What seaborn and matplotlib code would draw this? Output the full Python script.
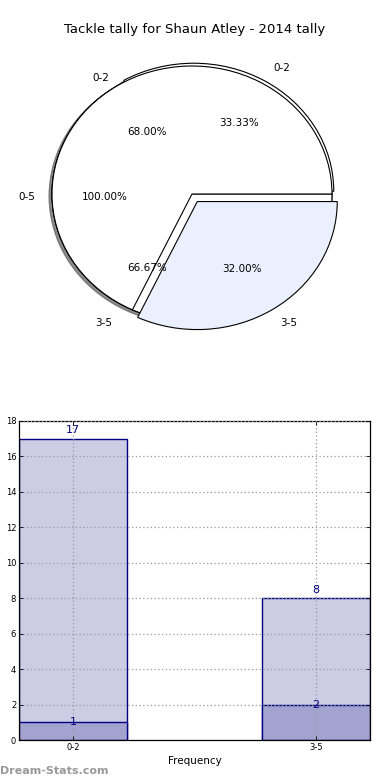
import matplotlib
matplotlib.use("Agg")
import matplotlib.pyplot as plt
import matplotlib.transforms as mtrans
import seaborn as sns
import pandas as pd

# ---- data ----
title = "Tackle tally for Shaun Atley - 2014 tally"
outer_labels = ["0-5"]
outer_values = [25]
mid_labels = ["0-2", "3-5"]
mid_values = [17, 8]
inner_labels = ["0-2", "3-5"]
inner_values = [1, 2]

bar_categories = ["0-2", "3-5"]
bar_totals = [17, 8]
bar_subset = [1, 2]
y_ticks = [0, 2, 4, 6, 8, 10, 12, 14, 16, 18]

sns.set_style("white")
plt.rcParams['font.family'] = ['DejaVu Sans']
plt.rcParams['text.color'] = 'black'
plt.rcParams['xtick.color'] = 'black'
plt.rcParams['ytick.color'] = 'black'
plt.rcParams['axes.labelcolor'] = 'black'

fig = plt.figure(figsize=(3.9, 7.8), dpi=100)

# ---- pie ----
axp = fig.add_axes([17/390, (780-354)/780, 350/390, 320/780])
wp = dict(edgecolor="black", linewidth=0.8)
sh = {'ox': -0.015, 'oy': -0.012, 'shade': 0.6}
texts = []
r1 = axp.pie(outer_values, labels=outer_labels, autopct="%.2f%%", startangle=0,
             colors=["white"], shadow=sh, wedgeprops=wp,
             textprops=dict(fontsize=7.5), labeldistance=1.12, pctdistance=0.62)
r3 = axp.pie(inner_values, labels=inner_labels, autopct="%.2f%%", startangle=0,
             colors=["white", "white"], explode=[0.025, 0], shadow=sh, wedgeprops=wp,
             textprops=dict(fontsize=7.5), labeldistance=1.14, pctdistance=0.64)
r2 = axp.pie(mid_values, labels=mid_labels, autopct="%.2f%%", startangle=0,
             colors=["white", "#EAF0FD"], explode=[0, 0.07], shadow=False, wedgeprops=wp,
             textprops=dict(fontsize=7.5), labeldistance=1.1, pctdistance=0.6)
for r in (r1, r2, r3):
    for t in list(r[1]) + list(r[2]):
        t.set_transform(mtrans.offset_copy(t.get_transform(), fig=fig, y=-3, units='dots'))
axp.set_aspect("auto")
axp.set_xlim(-1.25, 1.25)
axp.set_ylim(-1.25, 1.25)
axp.axis("off")
fig.text(0.5, 1 - 30/780, title, ha="center", va="center", fontsize=9.5)

# ---- bars ----
axb = fig.add_axes([19/390, 40/780, 351/390, 319/780])
df_tot = pd.DataFrame({"cat": bar_categories, "val": bar_totals})
df_sub = pd.DataFrame({"cat": bar_categories, "val": bar_subset})
w = 0.444
sns.barplot(data=df_tot, x="cat", y="val", ax=axb, color="#CCCCE5", saturation=1,
            width=w, edgecolor="#000080", linewidth=1.0, zorder=2)
sns.barplot(data=df_sub, x="cat", y="val", ax=axb, color="#A3A3D0", saturation=1,
            width=w, edgecolor="#000080", linewidth=1.0, zorder=2)
for i, v in enumerate(bar_totals):
    axb.text(i, v + 0.2, str(v), ha="center", va="bottom", color="#000080", fontsize=8, zorder=5)
for i, v in enumerate(bar_subset):
    axb.text(i, v, str(v), ha="center", va="center", color="#000080", fontsize=8, zorder=5)

axb.set_xlim(-w/2, 1 + w/2)
axb.set_ylim(0, 18)
axb.set_yticks(y_ticks)
axb.tick_params(axis="both", labelsize=6, direction="in", length=3, width=0.6,
                top=True, right=True, bottom=True, left=True, pad=2)
axb.grid(True, linestyle=(0, (1, 2)), color="#999999", linewidth=0.9, zorder=3)
axb.set_axisbelow(False)
for s in axb.spines.values():
    s.set_color("black")
    s.set_linewidth(0.9)
axb.set_xlabel("Frequency", fontsize=7.5, labelpad=3)
axb.set_ylabel("Stat Tackle Tally", fontsize=7.5)
axb.yaxis.set_label_coords(-0.072, 0.5)

fig.text(0.0, 1 - 771/780, "Dream-Stats.com", ha="left", va="center",
         fontsize=8, color="#999999", fontweight="bold")

fig.savefig("out.png", dpi=100)
